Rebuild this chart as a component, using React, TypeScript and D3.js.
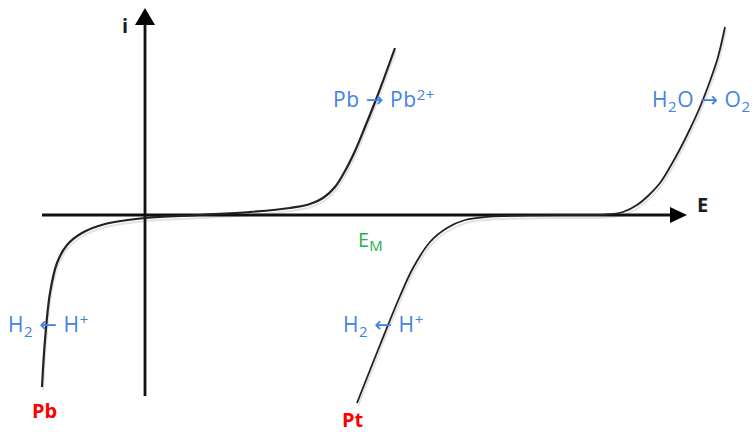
import React from "react";
import * as d3 from "d3";

// Current–potential curves (E in V-like units, i in arbitrary current units)
const pbCurve: [number, number][] = [
  [-1.03, -8.6], [-1.0, -6.25], [-0.95, -3.9], [-0.88, -2.4], [-0.78, -1.5],
  [-0.63, -0.9], [-0.4, -0.45], [0, -0.15], [0.55, 0],
  [1.05, 0.15], [1.45, 0.35], [1.65, 0.55], [1.78, 0.85], [1.9, 1.4],
  [2.0, 2.2], [2.1, 3.2], [2.2, 4.4], [2.32, 5.9], [2.5, 8.35],
];

const ptCurve: [number, number][] = [
  [2.12, -9.4], [2.35, -6.5], [2.55, -4.05], [2.68, -2.65], [2.85, -1.35],
  [3.02, -0.65], [3.2, -0.25], [3.45, -0.08], [3.85, -0.02], [4.3, 0],
  [4.6, 0.02], [4.78, 0.15], [4.92, 0.5], [5.04, 1.0], [5.15, 1.6],
  [5.25, 2.4], [5.35, 3.3], [5.45, 4.3], [5.55, 5.4], [5.65, 6.7],
  [5.73, 7.9], [5.8, 9.4],
];

// Axis extents (data units)
const eAxisRange: [number, number] = [-1.03, 5.42];
const iAxisRange: [number, number] = [-9.05, 10.35];

const W = 753;
const H = 432;

const x = d3.scaleLinear().domain([-1.45, 6.08]).range([0, W]);
const y = d3.scaleLinear().domain([-10.85, 10.75]).range([H, 0]);

const line = d3
  .line<[number, number]>()
  .x((d) => x(d[0]))
  .y((d) => y(d[1]))
  .curve(d3.curveCatmullRom.alpha(0.5));

const FONT = "'Open Sans', 'DejaVu Sans', sans-serif";
const BLUE = "#3f84e5";
const GREEN = "#1fb04c";
const RED = "#ff0000";
const DARK = "#1c1c28";

function Arrow({ dir }: { dir: "h" | "v" }) {
  if (dir === "h") {
    const tipX = x(eAxisRange[1]);
    const y0 = y(0);
    return <path d={`M${tipX - 17},${y0 - 8} L${tipX},${y0} L${tipX - 17},${y0 + 8} Z`} fill="#000" />;
  }
  const tipY = y(iAxisRange[1]);
  const x0 = x(0);
  return <path d={`M${x0 - 10},${tipY + 17} L${x0},${tipY} L${x0 + 10},${tipY + 17} Z`} fill="#000" />;
}

export default function App() {
  const pbPath = line(pbCurve) || "";
  const ptPath = line(ptCurve) || "";
  const blueText = { fill: BLUE, fontFamily: FONT, fontSize: 21, letterSpacing: 0.6 } as const;
  return (
    <svg
      width={W}
      height={H}
      viewBox={`0 0 ${W} ${H}`}
      style={{ position: "absolute", left: 0, top: 0, background: "#fff" }}
    >
      {/* faint shadows under the curves */}
      <g transform="translate(1,3)" opacity={0.5}>
        <path d={pbPath} fill="none" stroke="#c8c8c8" strokeWidth={2} />
        <path d={ptPath} fill="none" stroke="#c8c8c8" strokeWidth={2} />
      </g>

      {/* axes */}
      <line
        x1={x(eAxisRange[0])}
        x2={x(eAxisRange[1]) - 16}
        y1={y(0)}
        y2={y(0)}
        stroke="#111"
        strokeWidth={2.8}
      />
      <Arrow dir="h" />
      <line
        x1={x(0)}
        x2={x(0)}
        y1={y(iAxisRange[0])}
        y2={y(iAxisRange[1]) + 16}
        stroke="#111"
        strokeWidth={2.8}
      />
      <Arrow dir="v" />

      {/* curves */}
      <path d={pbPath} fill="none" stroke="#222" strokeWidth={2.2} />
      <path d={ptPath} fill="none" stroke="#222" strokeWidth={1.8} />

      {/* axis labels */}
      <text x={x(-0.23)} y={y(9.1)} fill={DARK} fontFamily={FONT} fontWeight={700} fontSize={20}>
        i
      </text>
      <text x={x(5.52)} y={y(0.15)} fill={DARK} fontFamily={FONT} fontWeight={700} fontSize={20}>
        E
      </text>

      {/* reactions */}
      <text x={x(1.88)} y={y(5.4)} {...blueText}>
        Pb → Pb
        <tspan fontSize={15} dy={-7}>2+</tspan>
      </text>
      <text x={x(5.07)} y={y(5.4)} {...blueText}>
        H<tspan fontSize={15} dy={5}>2</tspan>
        <tspan dy={-5}>O → O</tspan>
        <tspan fontSize={15} dy={5}>2</tspan>
      </text>
      <text x={x(-1.37)} y={y(-5.85)} {...blueText}>
        H<tspan fontSize={15} dy={5}>2</tspan>
        <tspan dy={-5}> ← H</tspan>
        <tspan fontSize={15} dy={-7}>+</tspan>
      </text>
      <text x={x(1.98)} y={y(-5.85)} {...blueText}>
        H<tspan fontSize={15} dy={5}>2</tspan>
        <tspan dy={-5}> ← H</tspan>
        <tspan fontSize={15} dy={-7}>+</tspan>
      </text>

      {/* mixed potential */}
      <text x={x(2.13)} y={y(-1.6)} fill={GREEN} fontFamily={FONT} fontSize={20}>
        E<tspan fontSize={15} dy={4}>M</tspan>
      </text>

      {/* electrode names */}
      <text x={x(-1.13)} y={y(-10.15)} fill={RED} fontFamily={FONT} fontWeight={700} fontSize={20}>
        Pb
      </text>
      <text x={x(1.97)} y={y(-10.62)} fill={RED} fontFamily={FONT} fontWeight={700} fontSize={20}>
        Pt
      </text>
    </svg>
  );
}
